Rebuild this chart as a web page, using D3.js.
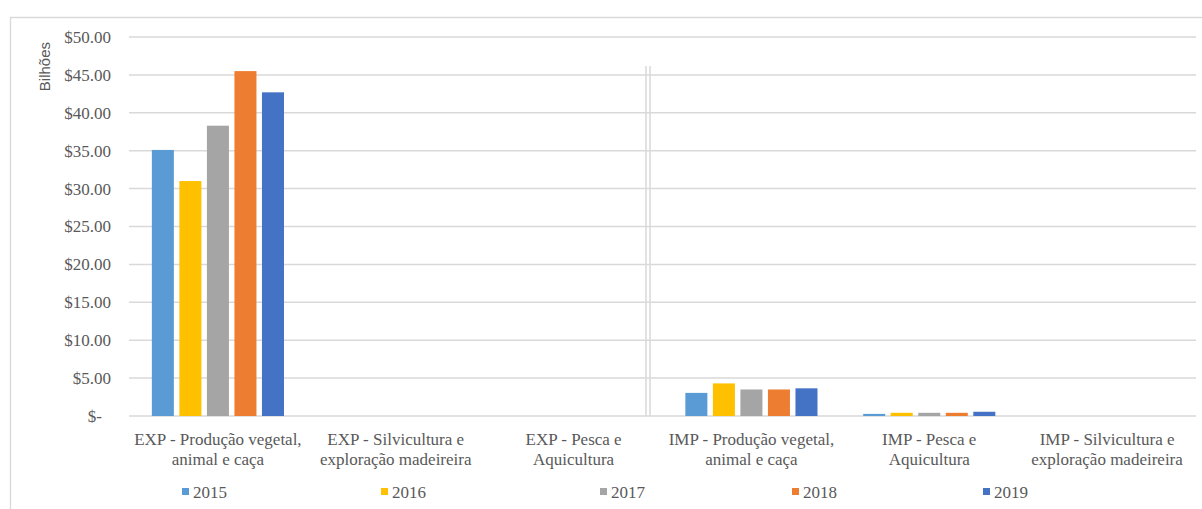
<!DOCTYPE html>
<html>
<head>
<meta charset="utf-8">
<script src="https://cdn.jsdelivr.net/npm/d3@7"></script>
<style>
  html, body { margin: 0; padding: 0; background: #fff; }
  svg { display: block; }
  .serif { font-family: "Liberation Serif", "Times New Roman", serif; }
  .sans { font-family: "Liberation Sans", Arial, sans-serif; }
</style>
</head>
<body>
<svg id="chart" width="1202" height="509"></svg>
<script>
// Categories (each label is drawn on two lines)
const categories = [
  ["EXP - Produção vegetal,", "animal e caça"],
  ["EXP - Silvicultura e", "exploração madeireira"],
  ["EXP - Pesca e", "Aquicultura"],
  ["IMP - Produção vegetal,", "animal e caça"],
  ["IMP - Pesca e", "Aquicultura"],
  ["IMP - Silvicultura e", "exploração madeireira"]
];
const years = ["2015", "2016", "2017", "2018", "2019"];

// Values in billions, one array per year, in category order
const v2015 = [35.1, 0, 0, 3.05, 0.28, 0];
const v2016 = [31.0, 0, 0, 4.3, 0.42, 0];
const v2017 = [38.3, 0, 0, 3.5, 0.42, 0];
const v2018 = [45.5, 0, 0, 3.5, 0.42, 0];
const v2019 = [42.7, 0, 0, 3.65, 0.56, 0];
const seriesValues = [v2015, v2016, v2017, v2018, v2019];

const yTicks = [0, 5, 10, 15, 20, 25, 30, 35, 40, 45, 50];
const colors = ["#5B9BD5", "#FFC000", "#A5A5A5", "#ED7D31", "#4472C4"];

const svg = d3.select("#chart");
const textColor = "#595959";
const gridColor = "#d9d9d9";

// Chart frame (left and top edges)
svg.append("path")
  .attr("d", "M10.5,509 V17.5 H1202")
  .attr("fill", "none").attr("stroke", gridColor).attr("stroke-width", 1.3);

const plot = { left: 129, right: 1196, top: 37, bottom: 416 };

const x0 = d3.scaleBand()
  .domain(d3.range(categories.length))
  .range([plot.left, plot.right])
  .padding(0);

const x1 = d3.scaleBand()
  .domain(years)
  .range([0, x0.bandwidth()])
  .paddingInner(0.2)
  .paddingOuter(0.83);

const y = d3.scaleLinear().domain([0, 50]).range([plot.bottom, plot.top]);

// Gridlines
svg.append("g")
  .selectAll("line")
  .data(yTicks)
  .join("line")
  .attr("x1", plot.left).attr("x2", plot.right)
  .attr("y1", d => y(d)).attr("y2", d => y(d))
  .attr("stroke", gridColor).attr("stroke-width", 1.5);

// Y axis labels
const fmt = d => d === 0 ? "$-" : "$" + d3.format(".2f")(d);
svg.append("g")
  .selectAll("text")
  .data(yTicks)
  .join("text")
  .attr("class", "serif")
  .attr("x", d => d === 0 ? 102 : 111)
  .attr("y", d => y(d))
  .attr("dy", "0.35em")
  .attr("text-anchor", "end")
  .attr("font-size", 17)
  .attr("fill", textColor)
  .text(fmt);

// Y axis title
svg.append("text")
  .attr("class", "sans")
  .attr("transform", "translate(50,42) rotate(-90)")
  .attr("text-anchor", "end")
  .attr("font-size", 15)
  .attr("fill", textColor)
  .text("Bilhões");

// Separator between export and import groups
[646, 650].forEach(px => {
  svg.append("line")
    .attr("x1", px).attr("x2", px)
    .attr("y1", 66).attr("y2", plot.bottom)
    .attr("stroke", gridColor).attr("stroke-width", 1.5);
});

// Bars
const groups = svg.append("g")
  .selectAll("g")
  .data(categories.map((c, i) => i))
  .join("g")
  .attr("transform", i => `translate(${x0(i)},0)`);

groups.selectAll("rect")
  .data(i => years.map((yr, s) => ({ yr, s, v: seriesValues[s][i] })))
  .join("rect")
  .attr("x", d => x1(d.yr))
  .attr("width", x1.bandwidth())
  .attr("y", d => y(d.v))
  .attr("height", d => y(0) - y(d.v))
  .attr("fill", d => colors[d.s]);

// Category labels
const catLabels = svg.append("g")
  .selectAll("text")
  .data(categories)
  .join("text")
  .attr("class", "serif")
  .attr("x", (d, i) => x0(i) + x0.bandwidth() / 2)
  .attr("y", 445)
  .attr("text-anchor", "middle")
  .attr("font-size", 17)
  .attr("fill", textColor);
catLabels.selectAll("tspan")
  .data(d => d)
  .join("tspan")
  .attr("x", function () { return d3.select(this.parentNode).attr("x"); })
  .attr("dy", (d, j) => j === 0 ? 0 : 20)
  .text(d => d);

// Legend
const legendX = [182, 381, 600, 792, 983];
const legend = svg.append("g")
  .selectAll("g")
  .data(years)
  .join("g")
  .attr("transform", (d, i) => `translate(${legendX[i]},488)`);
legend.append("rect")
  .attr("width", 7).attr("height", 7)
  .attr("fill", (d, i) => colors[i]);
legend.append("text")
  .attr("class", "serif")
  .attr("x", 11).attr("y", 10)
  .attr("font-size", 17)
  .attr("fill", textColor)
  .text(d => d);
</script>
</body>
</html>
